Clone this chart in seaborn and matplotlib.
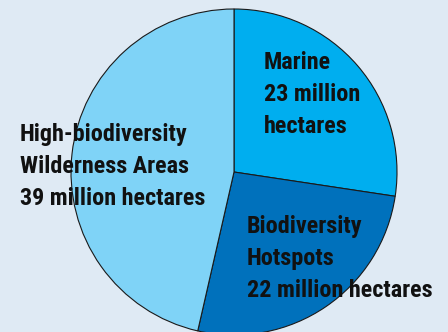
import matplotlib
matplotlib.use("Agg")
import matplotlib.pyplot as plt
import seaborn as sns

categories = ["Marine", "Biodiversity\nHotspots", "High-biodiversity\nWilderness Areas"]
hectares_million = [23, 22, 39]
slice_colors = ["#00aeef", "#0071bc", "#7fd3f7"]
bg_color = "#dfeaf4"

sns.set_theme(style="white")
plt.rcParams["font.family"] = ["Roboto Condensed", "PT Sans Narrow", "DejaVu Sans"]

fig = plt.figure(figsize=(4.48, 3.32), dpi=100, facecolor=bg_color)
ax = fig.add_axes([0, 0, 1, 1])
ax.set_facecolor(bg_color)

ax.pie(hectares_million, colors=slice_colors, startangle=90, counterclock=False,
       radius=163, center=(234, 160),
       wedgeprops=dict(edgecolor="#1a1a1a", linewidth=0.8))

ax.set_xlim(0, 448)
ax.set_ylim(0, 332)
ax.set_aspect("equal")
ax.axis("off")

labels = [f"{c}\n{v} million hectares" for c, v in zip(categories, hectares_million)]
labels[0] = f"{categories[0]}\n{hectares_million[0]} million\nhectares"
label_pos = [(264, 332 - 51), (247, 332 - 215), (20, 332 - 123)]

for text, (x, y) in zip(labels, label_pos):
    ax.text(x, y, text, ha="left", va="top", fontsize=17.4, fontweight="bold",
            color="#111111", linespacing=1.5)

fig.savefig("out.png", dpi=100, facecolor=bg_color)
